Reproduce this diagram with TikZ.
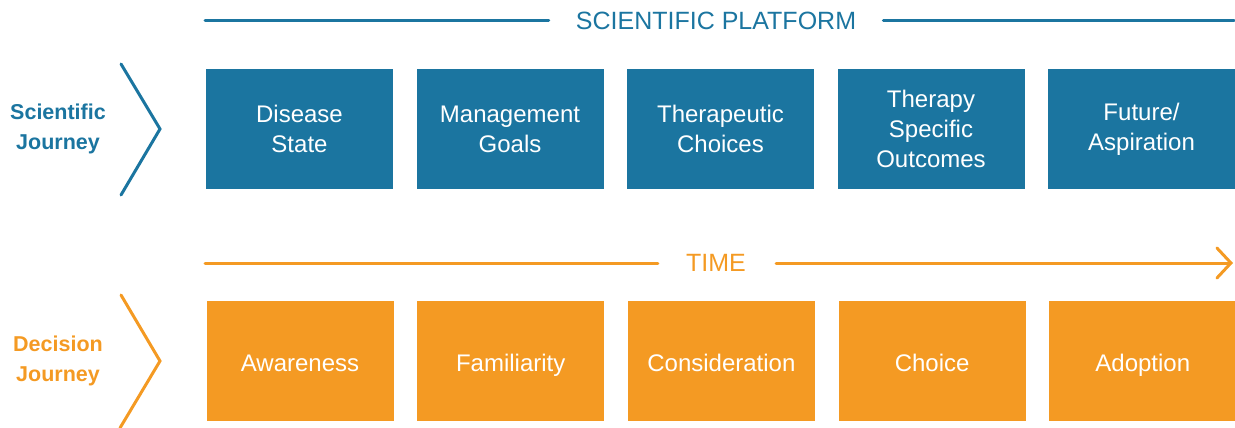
\documentclass[tikz,border=0pt]{standalone}
\usepackage{fontspec}
\setmainfont{Liberation Sans}
\usetikzlibrary{arrows.meta}
\definecolor{sciblue}{HTML}{1B75A0}
\definecolor{decorange}{HTML}{F49A23}
\tikzset{
  stagebox/.style={minimum width=187pt, minimum height=120pt, inner sep=0pt,
    text=white, align=center, font=\fontsize{24}{30}\selectfont},
  sciblock/.style={stagebox, fill=sciblue},
  decblock/.style={stagebox, fill=decorange, text height=21pt, text depth=1pt},
  rowlabel/.style={align=center, font=\bfseries\fontsize{21.5}{30}\selectfont},
  headline/.style={font=\fontsize{25}{28}\selectfont, inner sep=0pt},
  chevron/.style={line width=3pt, line cap=round, line join=miter}
}
\begin{document}
\begin{tikzpicture}[x=1pt, y=-1pt]
  \useasboundingbox (0,0) rectangle (1235,428);

  % Kopfzeile: wissenschaftliche Plattform
  \node[headline, text=sciblue] (platform) at (716,21) {SCIENTIFIC PLATFORM};
  \coordinate (platL) at (205,21);
  \coordinate (platR) at (1234,21);
  \draw[sciblue, line width=3pt, line cap=round] (platL) -- ([xshift=-27pt]platform.west);
  \draw[sciblue, line width=3pt, line cap=round] ([xshift=27pt]platform.east) -- (platR);

  % Obere Reihe
  \foreach \i/\txt in {1/{Disease\\State}, 2/{Management\\Goals}, 3/{Therapeutic\\Choices},
                       4/{Therapy\\Specific\\Outcomes}, 5/{Future/\\Aspiration}}
    \node[sciblock] (sci\i) at ({299.5+210.5*(\i-1)},129) {\txt};

  % Zeitachse
  \node[headline, text=decorange] (time) at (716,263) {TIME};
  \coordinate (timeL) at (205,263);
  \coordinate (timeR) at (1233,263);
  \draw[decorange, line width=3pt, line cap=round] (timeL) -- ([xshift=-28pt]time.west);
  \draw[decorange, line width=3pt, line cap=round,
        -{Straight Barb[length=14pt, width=30pt, line cap=round]}]
    ([xshift=30pt]time.east) -- (timeR);

  % Untere Reihe
  \foreach \i/\txt in {1/Awareness, 2/Familiarity, 3/Consideration, 4/Choice, 5/Adoption}
    \node[decblock] (dec\i) at ({300+210.7*(\i-1)},361) {\txt};

  % Linke Beschriftungen mit Winkeln
  \node[rowlabel, text=sciblue] (scilabel) at (58,129) {Scientific\\Journey};
  \node[rowlabel, text=decorange] (declabel) at (58,361) {Decision\\Journey};
  \coordinate (sciTop) at (121,64);
  \coordinate (sciTip) at (160,129);
  \coordinate (sciBot) at (121,195);
  \coordinate (decTop) at (121,295);
  \coordinate (decTip) at (160,361);
  \coordinate (decBot) at (120,428);
  \draw[chevron, sciblue] (sciTop) -- (sciTip) -- (sciBot);
  \draw[chevron, decorange] (decTop) -- (decTip) -- (decBot);
\end{tikzpicture}
\end{document}
